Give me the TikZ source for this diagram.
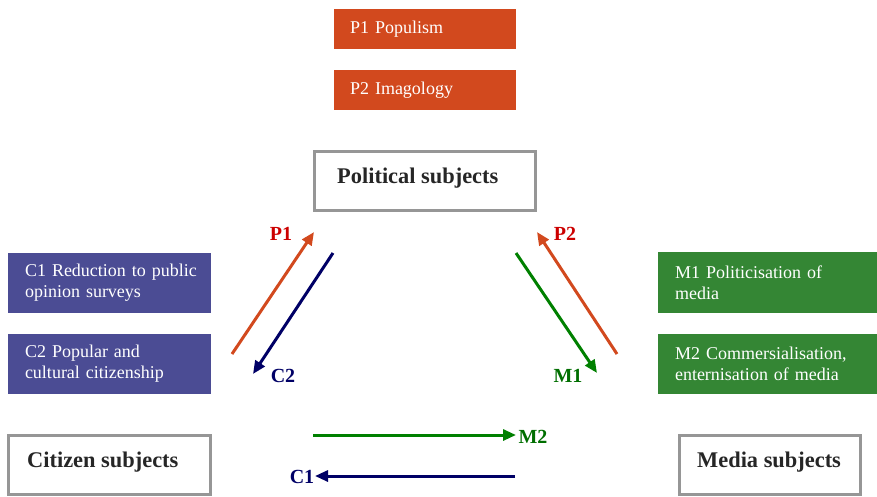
\documentclass[tikz,border=0pt]{standalone}
\usepackage{fontspec}
\setmainfont{Liberation Serif}
\usetikzlibrary{arrows.meta}
\definecolor{porange}{RGB}{210,73,30}
\definecolor{cpurple}{RGB}{75,76,148}
\definecolor{mgreen}{RGB}{52,134,52}
\definecolor{anavy}{RGB}{0,0,102}
\definecolor{agreen}{RGB}{0,128,0}
\definecolor{lred}{RGB}{204,0,0}
\definecolor{lgreen}{RGB}{0,110,0}
\definecolor{bgray}{RGB}{150,150,150}
\begin{document}
\begin{tikzpicture}[x=1pt,y=-1pt,
  colbox/.style={fill=#1, text=white, inner ysep=0pt, minimum height=40pt,
    align=left, font=\fontsize{18}{21}\selectfont},
  subjbox/.style={draw=bgray, line width=3pt, inner sep=0pt, minimum height=59pt},
  subjtext/.style={anchor=base west, inner sep=0pt, font=\fontsize{22.4}{24}\selectfont\bfseries, text={black!85}},
  arrlabel/.style={inner sep=0pt, font=\fontsize{20}{22}\selectfont\bfseries, text=#1},
  flow/.style={draw=#1, line width=3pt, -{Triangle[length=13pt,width=11pt]}}
]
\useasboundingbox (0,0) rectangle (877,496);

% coloured boxes
\node[colbox=porange, inner xsep=16pt, text width=150pt] (p1) at (425,29) {P1 Populism};
\node[colbox=porange, inner xsep=16pt, text width=150pt] (p2) at (425,90) {P2 Imagology};
\node[colbox=cpurple, inner xsep=17pt, text width=169pt, minimum height=60pt] (c1) at (109.5,283) {\mbox{C1 Reduction to public}\\\mbox{opinion surveys}};
\node[colbox=cpurple, inner xsep=17pt, text width=169pt, minimum height=60pt] (c2) at (109.5,364) {\mbox{C2 Popular and}\\\mbox{cultural citizenship}};
\node[colbox=mgreen, inner xsep=17pt, text width=185pt, minimum height=61pt] (m1) at (767.5,282.5) {\mbox{M1 Politicisation of}\\\mbox{media}};
\node[colbox=mgreen, inner xsep=17pt, text width=185pt, minimum height=60pt] (m2) at (767.5,364) {\mbox{M2 Commersialisation,}\\\mbox{enternisation of media}};

% subject boxes
\node[subjbox, minimum width=221pt] (polbox) at (425,181) {};
\node[subjtext] (pol) at (337,183) {Political subjects};
\node[subjbox, minimum width=202pt] (citbox) at (109.5,465) {};
\node[subjtext] (cit) at (27,467) {Citizen subjects};
\node[subjbox, minimum width=181pt] (medbox) at (770,465) {};
\node[subjtext] (med) at (697,467) {Media subjects};

% arrow end points
\coordinate (p1s) at (232,354);
\coordinate (p1e) at (314,232);
\coordinate (c2s) at (333,253);
\coordinate (c2e) at (253,374);
\coordinate (m1s) at (516,253);
\coordinate (m1e) at (597,373);
\coordinate (p2s) at (617,354);
\coordinate (p2e) at (537,232);
\coordinate (m2s) at (313,435);
\coordinate (m2e) at (516,435);
\coordinate (c1s) at (515,476);
\coordinate (c1e) at (315,476);

\draw[flow=porange] (p1s) -- (p1e);
\draw[flow=anavy] (c2s) -- (c2e);
\draw[flow=agreen] (m1s) -- (m1e);
\draw[flow=porange] (p2s) -- (p2e);
\draw[flow=agreen] (m2s) -- (m2e);
\draw[flow=anavy] (c1s) -- (c1e);

% arrow labels
\node[arrlabel=lred] (lp1) at (281,234) {P1};
\node[arrlabel=anavy] (lc2) at (283,376) {C2};
\node[arrlabel=lred] (lp2) at (565,234) {P2};
\node[arrlabel=lgreen] (lm1) at (568,376) {M1};
\node[arrlabel=lgreen] (lm2) at (533,437) {M2};
\node[arrlabel=anavy] (lc1) at (302,477) {C1};
\end{tikzpicture}
\end{document}
